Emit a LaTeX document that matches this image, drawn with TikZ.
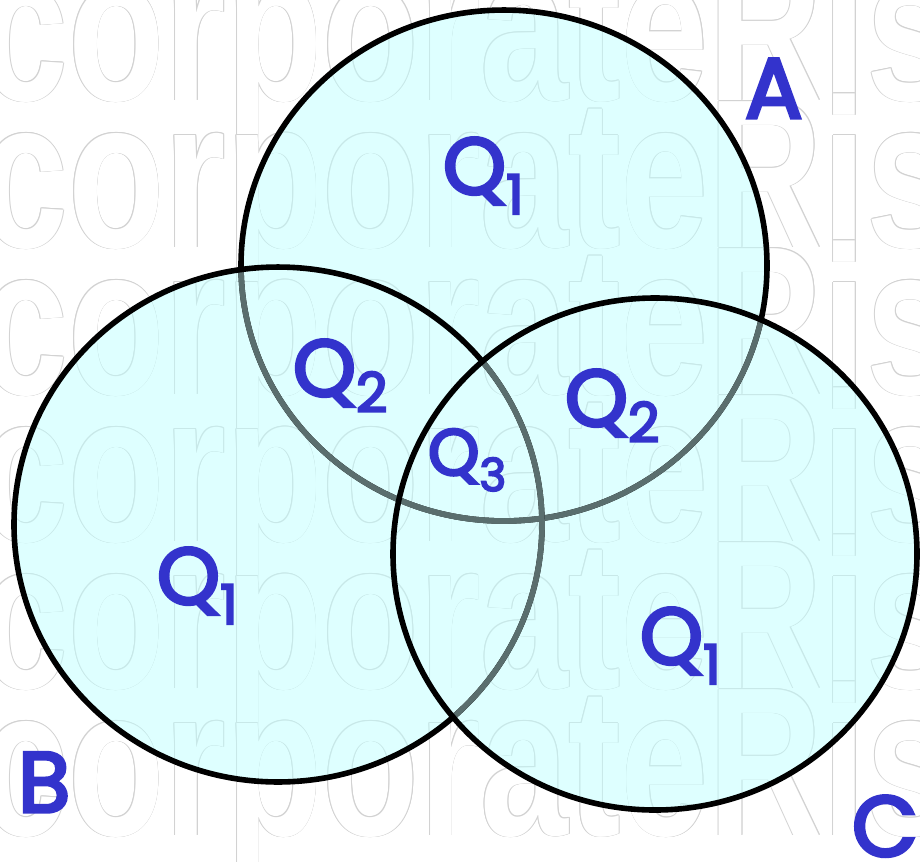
\documentclass[tikz,border=0pt]{standalone}
\usepackage{fontspec}
\setmainfont{Poppins}
\newfontfamily\labfont{Poppins}[FakeBold=4]
\newfontfamily\wmfont{Liberation Sans}
\definecolor{lblue}{HTML}{3333CC}
\definecolor{wmline}{HTML}{D2D2D2}
\definecolor{vcyan}{HTML}{BFFFFF}
\definecolor{hidline}{HTML}{5A6E6E}
\newcommand\wmtext{\scalebox{0.745}[1]{\wmfont\bfseries\fontsize{159}{159}\selectfont corporateRisk}}
\newcommand\qlab[4]{{\fontsize{#1}{#1}\selectfont Q}\raisebox{#4}{\fontsize{#2}{#2}\selectfont #3}}
\newcommand\ellA{(504,265.5) ellipse [x radius=197.25pt, y radius=191.6pt]}
\newcommand\ellB{(278,524.5) ellipse [x radius=198pt, y radius=193.1pt]}
\newcommand\ellC{(655,554) ellipse [x radius=196.5pt, y radius=192pt]}
\tikzset{
  vfill/.style={fill=vcyan, fill opacity=0.5},
  vline/.style={draw=black, line width=4.2pt},
  hline/.style={draw=hidline, line width=4.2pt},
  lab/.style={anchor=base west, inner sep=0pt, outer sep=0pt, text=lblue, font=\labfont},
  wm/.style={anchor=base west, inner sep=0pt, text=#1}
}
\begin{document}
\begin{tikzpicture}[x=0.75pt,y=-0.75pt]
\useasboundingbox (0,0) rectangle (920,861);
\fill[white] (0,0) rectangle (920,861);
% watermark: outlined text (contour by offset copies)
\foreach \yy in {100,247,394,541,688,835}{
  \foreach \dx/\dy [count=\k] in {0.8/0,-0.8/0,0/0.8,0/-0.8,0.6/0.6,-0.6/0.6,0.6/-0.6,-0.6/-0.6}{
    \node[wm=wmline] (wm\yy o\k) at (-20+\dx,\yy+\dy) {\wmtext};
  }
  \node[wm=white] (wm\yy) at (-20,\yy) {\wmtext};
}
% union fill of the three circles (one layer)
\path[vfill, nonzero rule] \ellA \ellB \ellC;
% circle A outline, greyed where B or C lie over it
\path[vline] \ellA;
\begin{scope}\clip \ellB; \path[hline] \ellA; \end{scope}
\begin{scope}\clip \ellC; \path[hline] \ellA; \end{scope}
% circle B outline, greyed where C lies over it
\path[vline] \ellB;
\begin{scope}\clip \ellC; \path[hline] \ellB; \end{scope}
% circle C outline
\path[vline] \ellC;
% labels
\node[lab] (qa) at (443,194) {\qlab{60}{41}{1}{-15pt}};
\node[lab] (qb) at (157,604) {\qlab{60}{41}{1}{-15pt}};
\node[lab] (qc) at (640,664) {\qlab{60}{41}{1}{-15pt}};
\node[lab] (qab) at (293,396) {\qlab{60}{41}{2}{-12pt}};
\node[lab] (qac) at (565,426) {\qlab{60}{41}{2}{-12pt}};
\node[lab] (qabc) at (428,475) {\qlab{49}{34}{3}{-12pt}};
\node[lab] (la) at (745,118) {\fontsize{64}{64}\selectfont A};
\node[lab] (lb) at (18,812) {\fontsize{64}{64}\selectfont B};
\node[lab] (lc) at (852,856) {\fontsize{64}{64}\selectfont C};
\end{tikzpicture}
\end{document}
